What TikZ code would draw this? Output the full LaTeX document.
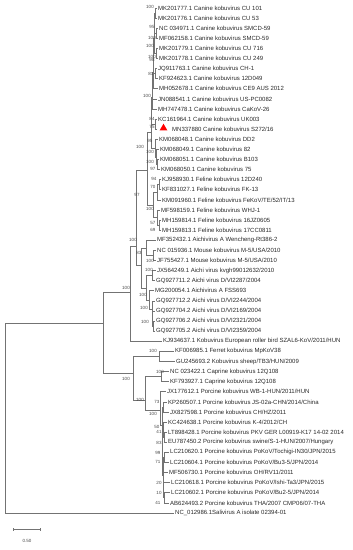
\documentclass[tikz,border=0pt]{standalone}
\usepackage{fontspec}
\setmainfont{Liberation Sans}
\usetikzlibrary{shapes.geometric}
\definecolor{treeline}{RGB}{115,115,115}
\definecolor{leaftext}{RGB}{40,40,40}
\definecolor{bootgray}{RGB}{70,70,70}
% elbow branch from a parent to a child
\newcommand\br[2]{\draw[branch] (#1) |- (#2);}

\begin{document}
\begin{tikzpicture}[x=1pt, y=-1pt,
  branch/.style={treeline, line width=0.75pt},
  leaf/.style={anchor=west, inner sep=1.5pt, text=leaftext, font=\fontsize{6}{7}\selectfont},
  boot/.style={text=bootgray, inner sep=0pt, font=\fontsize{4.5}{5}\selectfont},
  marker/.style={regular polygon, regular polygon sides=3, fill=red, inner sep=0pt, minimum size=9pt}]
\useasboundingbox (0,0) rectangle (353,550);

% leaves
\node[leaf] (l1) at (156.5,8) {MK201777.1 Canine kobuvirus CU 101};
\node[leaf] (l2) at (156.5,18.1) {MK201776.1 Canine kobuvirus CU 53};
\node[leaf] (l3) at (157.5,28.2) {NC 034971.1 Canine kobuvirus SMCD-59};
\node[leaf] (l4) at (157.5,38.3) {MF062158.1 Canine kobuvirus SMCD-59};
\node[leaf] (l5) at (157.5,48.4) {MK201779.1 Canine kobuvirus CU 716};
\node[leaf] (l6) at (157.5,58.5) {MK201778.1 Canine kobuvirus CU 249};
\node[leaf] (l7) at (156.5,68.6) {JQ911763.1 Canine kobuvirus CH-1};
\node[leaf] (l8) at (157.5,78.7) {KF924623.1 Canine kobuvirus 12D049};
\node[leaf] (l9) at (157.5,88.8) {MH052678.1 Canine kobuvirus CE9 AUS 2012};
\node[leaf] (l10) at (156.5,98.9) {JN088541.1 Canine kobuvirus US-PC0082};
\node[leaf] (l11) at (156.5,109) {MH747478.1 Canine kobuvirus CaKoV-26};
\node[leaf] (l12) at (156.5,119.1) {KC161964.1 Canine kobuvirus UK003};
\node[marker] (tri) at (163.5,128.2) {};
\node[leaf] (l13) at (170.5,129.2) {MN337880 Canine kobuvirus S272/16};
\node[leaf] (l14) at (157.5,139.3) {KM068048.1 Canine kobuvirus DD2};
\node[leaf] (l15) at (158.5,149.4) {KM068049.1 Canine kobuvirus 82};
\node[leaf] (l16) at (158.5,159.5) {KM068051.1 Canine kobuvirus B103};
\node[leaf] (l17) at (159.5,169.6) {KM068050.1 Canine kobuvirus 75};
\node[leaf] (l18) at (160.5,179.7) {KJ958930.1 Feline kobuvirus 12D240};
\node[leaf] (l19) at (160.5,189.8) {KF831027.1 Feline kobuvirus FK-13};
\node[leaf] (l20) at (160.5,199.9) {KM091960.1 Feline kobuvirus FeKoV/TE/52/IT/13};
\node[leaf] (l21) at (159.5,210) {MF598159.1 Feline kobuvirus WHJ-1};
\node[leaf] (l22) at (160.5,220.1) {MH159814.1 Feline kobuvirus 16JZ0605};
\node[leaf] (l23) at (160.5,230.2) {MH159813.1 Feline kobuvirus 17CC0811};
\node[leaf] (l24) at (155.5,240.3) {MF352432.1 Aichivirus A Wencheng-Rt386-2};
\node[leaf] (l25) at (155.5,250.4) {NC 015936.1 Mouse kobuvirus M-5/USA/2010};
\node[leaf] (l26) at (155.5,260.5) {JF755427.1 Mouse kobuvirus M-5/USA/2010};
\node[leaf] (l27) at (155.5,270.6) {JX564249.1 Aichi virus kvgh99012632/2010};
\node[leaf] (l28) at (154.5,280.7) {GQ927711.2 Aichi virus D/VI2287/2004};
\node[leaf] (l29) at (153.5,290.8) {MG200054.1 Aichivirus A FSS693};
\node[leaf] (l30) at (154.5,300.9) {GQ927712.2 Aichi virus D/VI2244/2004};
\node[leaf] (l31) at (154.5,311) {GQ927704.2 Aichi virus D/VI2169/2004};
\node[leaf] (l32) at (154.5,321.1) {GQ927706.2 Aichi virus D/VI2321/2004};
\node[leaf] (l33) at (154.5,331.2) {GQ927705.2 Aichi virus D/VI2359/2004};
\node[leaf] (l34) at (161.5,341.3) {KJ934637.1 Kobuvirus European roller bird SZAL6-KoV/2011/HUN};
\node[leaf] (l35) at (173.5,351.4) {KF006985.1 Ferret kobuvirus MpKoV38};
\node[leaf] (l36) at (174.5,361.5) {GU245693.2 Kobuvirus sheep/TB3/HUN/2009};
\node[leaf] (l37) at (168.5,371.6) {NC 023422.1 Caprine kobuvirus 12Q108};
\node[leaf] (l38) at (168.5,381.7) {KF793927.1 Caprine kobuvirus 12Q108};
\node[leaf] (l39) at (165.5,391.8) {JX177612.1 Porcine kobuvirus WB-1-HUN/2011/HUN};
\node[leaf] (l40) at (166.5,401.9) {KP260507.1 Porcine kobuvirus JS-02a-CHN/2014/China};
\node[leaf] (l41) at (168.5,412) {JX827598.1 Porcine kobuvirus CH/HZ/2011};
\node[leaf] (l42) at (166.5,422.1) {KC424638.1 Porcine kobuvirus K-4/2012/CH};
\node[leaf] (l43) at (166.5,432.2) {LT898428.1 Porcine kobuvirus PKV GER L00919-K17 14-02 2014};
\node[leaf] (l44) at (166.5,442.3) {EU787450.2 Porcine kobuvirus swine/S-1-HUN/2007/Hungary};
\node[leaf] (l45) at (168.5,452.4) {LC210620.1 Porcine kobuvirus PoKoV/Tochigi-IN30/JPN/2015};
\node[leaf] (l46) at (168.5,462.5) {LC210604.1 Porcine kobuvirus PoKoV/Bu3-5/JPN/2014};
\node[leaf] (l47) at (167.5,472.6) {MF506730.1 Porcine kobuvirus OH/RV11/2011};
\node[leaf] (l48) at (169.5,482.7) {LC210618.1 Porcine kobuvirus PoKoV/Ishi-Ta3/JPN/2015};
\node[leaf] (l49) at (169.5,492.8) {LC210602.1 Porcine kobuvirus PoKoV/Bu2-5/JPN/2014};
\node[leaf] (l50) at (168.5,502.9) {AB624493.2 Porcine kobuvirus THA/2007 CMP06/07-THA};
\node[leaf] (l51) at (173.5,513) {NC\_012986.1Salivirus A isolate 02394-01};

% canine clade
\coordinate (k1) at (155,13.05);  \br{k1}{l1.west} \br{k1}{l2.west}
\coordinate (k2) at (156,33.25);  \br{k2}{l3.west} \br{k2}{l4.west}
\coordinate (k3) at (154.5,23);   \br{k3}{k1} \br{k3}{k2}
\coordinate (k4) at (156,53.45);  \br{k4}{l5.west} \br{k4}{l6.west}
\coordinate (k5) at (154,38);     \br{k5}{k3} \br{k5}{k4}
\coordinate (k6) at (155.5,73.65); \br{k6}{l7.west} \br{k6}{l8.west}
\coordinate (k7) at (153.5,56);   \br{k7}{k5} \br{k7}{k6}
\coordinate (k8) at (153,72);     \br{k8}{k7} \br{k8}{l9.west}
\coordinate (k9) at (152.5,85);   \br{k9}{k8} \br{k9}{l10.west}
\coordinate (k10) at (152,97);    \br{k10}{k9} \br{k10}{l11.west}
\coordinate (tip13) at (157,129.2);
\coordinate (k11) at (155,124.15); \br{k11}{l12.west} \br{k11}{tip13}
\coordinate (k12) at (151.5,110); \br{k12}{k10} \br{k12}{k11}
\coordinate (k13) at (157.5,164.55); \br{k13}{l16.west} \br{k13}{l17.west}
\coordinate (k14) at (156.5,157); \br{k14}{l15.west} \br{k14}{k13}
\coordinate (k15) at (155.5,148); \br{k15}{l14.west} \br{k15}{k14}
\coordinate (canine) at (151,132); \br{canine}{k12} \br{canine}{k15}
% feline clade
\coordinate (f1) at (159,184.75); \br{f1}{l18.west} \br{f1}{l19.west}
\coordinate (f2) at (157,192);    \br{f2}{f1} \br{f2}{l20.west}
\coordinate (f3) at (159,225.15); \br{f3}{l22.west} \br{f3}{l23.west}
\coordinate (f4) at (157,217);    \br{f4}{l21.west} \br{f4}{f3}
\coordinate (feline) at (153,205); \br{feline}{f2} \br{feline}{f4}
\coordinate (cf) at (147,170);    \br{cf}{canine} \br{cf}{feline}
% rodent and human clades
\coordinate (mouse) at (153,255.45); \br{mouse}{l25.west} \br{mouse}{l26.west}
\coordinate (ai1) at (152,275.65); \br{ai1}{l27.west} \br{ai1}{l28.west}
\coordinate (ai2) at (153.5,326.15); \br{ai2}{l32.west} \br{ai2}{l33.west}
\coordinate (ai3) at (152.5,318); \br{ai3}{l31.west} \br{ai3}{ai2}
\coordinate (ai4) at (152,309);   \br{ai4}{l30.west} \br{ai4}{ai3}
\coordinate (ai5) at (149,300);   \br{ai5}{l29.west} \br{ai5}{ai4}
\coordinate (aichi) at (146,288); \br{aichi}{ai1} \br{aichi}{ai5}
\coordinate (rodent) at (146,248); \br{rodent}{l24.west} \br{rodent}{mouse}
\coordinate (ra) at (141,265);    \br{ra}{rodent} \br{ra}{aichi}
\coordinate (aa) at (136,246);    \br{aa}{cf} \br{aa}{ra}
\coordinate (avian) at (130,292); \br{avian}{aa} \br{avian}{l34.west}
% ungulate clades
\coordinate (fs) at (159,356.45); \br{fs}{l35.west} \br{fs}{l36.west}
\coordinate (cap) at (161,376.65); \br{cap}{l37.west} \br{cap}{l38.west}
\coordinate (p1) at (164,497.85); \br{p1}{l49.west} \br{p1}{l50.west}
\coordinate (p2) at (163.5,490);  \br{p2}{l48.west} \br{p2}{p1}
\coordinate (p3) at (164.5,457.45); \br{p3}{l45.west} \br{p3}{l46.west}
\coordinate (p4) at (163.5,465);  \br{p4}{p3} \br{p4}{l47.west}
\coordinate (p5) at (163,475);    \br{p5}{p4} \br{p5}{p2}
\coordinate (p6) at (164,437.25); \br{p6}{l43.west} \br{p6}{l44.west}
\coordinate (p7) at (163,430);    \br{p7}{l42.west} \br{p7}{p6}
\coordinate (p8) at (162.5,450);  \br{p8}{p7} \br{p8}{p5}
\coordinate (p9) at (163.5,406.95); \br{p9}{l40.west} \br{p9}{l41.west}
\coordinate (p10) at (162,425);   \br{p10}{p9} \br{p10}{p8}
\coordinate (porcine) at (160,410); \br{porcine}{l39.west} \br{porcine}{p10}
\coordinate (cp) at (145,400);    \br{cp}{cap} \br{cp}{porcine}
\coordinate (ungul) at (133,373); \br{ungul}{fs} \br{ungul}{cp}
\coordinate (kobu) at (103,323);  \br{kobu}{avian} \br{kobu}{ungul}
\coordinate (root) at (5,418);    \br{root}{kobu} \br{root}{l51.west}

% bootstrap values
\foreach \bx/\by/\bv [count=\i] in {150/7/100, 152/27/95, 152/38/100, 150/46/100, 152/57/100, 152/60/98,
  151/74/81, 147/96/100, 152/119/84, 152/127/75, 150/141/95, 140/147/100, 150/152/100, 150/162/100,
  153/169/97, 154/179/94, 153/187/70, 137/195/97, 150/209/100, 153/223/57, 153/230/69, 133/240/100,
  139/253/83, 150/261/100, 149/270/100, 126/288/100, 143/295/100, 144/308/100, 145/322/100,
  153/351/100, 160/372/100, 126/379/100, 140/400/100, 157/402/73, 153/414/100, 157/427/50,
  159/432/41, 159/443/83, 158/453/99, 158/462/71, 159/483/20, 159/493/10, 158/503/41}
  \node[boot] (b\i) at (\bx,\by) {\bv};

% scale bar
\coordinate (sb1) at (13,529);
\coordinate (sb2) at (40,529);
\draw[branch] (sb1) -- (sb2);
\draw[branch] ([yshift=-1.5pt]sb1) -- ([yshift=1.5pt]sb1);
\draw[branch] ([yshift=-1.5pt]sb2) -- ([yshift=1.5pt]sb2);
\node[boot] (sblabel) at (27,541) {0.50};
\end{tikzpicture}
\end{document}
